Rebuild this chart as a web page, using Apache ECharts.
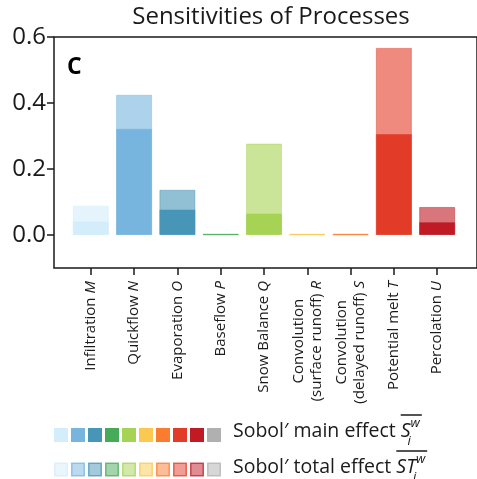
<!DOCTYPE html>
<html><head><meta charset="utf-8">
<script src="https://cdn.jsdelivr.net/npm/echarts@6/dist/echarts.min.js"></script>
<style>html,body{margin:0;padding:0;background:#fff}#c{width:477px;height:479px}</style>
</head><body><div id="c"></div><script>
// ---- data ----
const categories = ['Infiltration', 'Quickflow', 'Evaporation', 'Baseflow', 'Snow Balance',
  'Convolution\n(surface runoff)', 'Convolution\n(delayed runoff)', 'Potential melt', 'Percolation'];
const symbols = ['M', 'N', 'O', 'P', 'Q', 'R', 'S', 'T', 'U'];
const mainEffect  = [0.041, 0.322, 0.077, 0.002, 0.065, 0.002, 0.002, 0.306, 0.039];
const totalEffect = [0.089, 0.425, 0.137, 0.004, 0.277, 0.004, 0.004, 0.567, 0.085];
const yTicks = [0, 0.2, 0.4, 0.6];
const colors = ['#d3edfa', '#77b5df', '#4795b7', '#46ab58', '#a6d353', '#fbc94f', '#f97c2f', '#e23c28', '#c01b25'];
const legendColors = colors.concat(['#b0b0b0']);
const titleText = 'Sensitivities of Processes';
const panelLetter = 'C';
const legendMain = 'Sobol\u2032 main effect';
const legendTotal = 'Sobol\u2032 total effect';

const FF = '"Open Sans", sans-serif';
const INK = '#1a1a1a';
function rgba(hex, a) {
  const n = parseInt(hex.slice(1), 16);
  return 'rgba(' + (n >> 16 & 255) + ',' + (n >> 8 & 255) + ',' + (n & 255) + ',' + a + ')';
}
const idx = categories.map((_, i) => i);

function labelFor(v) {
  const i = Math.round(v);
  const lines = categories[i].split('\n');
  const last = lines.pop();
  const head = lines.map(l => '{n|' + l + '}');
  head.push('{n|' + last + ' }{i|' + symbols[i] + '}');
  return head.join('\n');
}

const cvs = document.createElement('canvas').getContext('2d');
function tw(text, font) { cvs.font = font; return cvs.measureText(text).width; }

const chart = echarts.init(document.getElementById('c'), null, {renderer: 'canvas'});

const graphic = [];
graphic.push({type: 'text', style: {text: panelLetter, x: 67, y: 67, font: 'bold 23px ' + FF, fill: '#000', verticalAlign: 'middle'}});

const sqX0 = 54, sqStep = 17, sqSize = 14;
legendColors.forEach((c, i) => {
  graphic.push({type: 'rect', shape: {x: sqX0 + i * sqStep, y: 428, width: sqSize, height: sqSize},
    style: {fill: c}});
  graphic.push({type: 'rect', shape: {x: sqX0 + i * sqStep + 0.75, y: 463.25, width: sqSize - 1.5, height: sqSize - 1.5},
    style: {fill: rgba(c, 0.5), stroke: rgba(c, 0.75), lineWidth: 1.5}});
});

function legendRow(label, sym, yMid) {
  const font = '19.5px ' + FF;
  const ifont = 'italic 19.5px ' + FF;
  const sfont = 'italic 13px ' + FF;
  const x0 = 233;
  const w = tw(label, font);
  const sx = x0 + w + 5;
  const sw = tw(sym, ifont);
  graphic.push({type: 'text', style: {text: label, x: x0, y: yMid, font, fill: INK, verticalAlign: 'middle'}});
  graphic.push({type: 'text', style: {text: sym, x: sx, y: yMid, font: ifont, fill: INK, verticalAlign: 'middle'}});
  const ww = tw('w', sfont);
  graphic.push({type: 'text', style: {text: 'w', x: sx + sw, y: yMid - 8, font: sfont, fill: INK, verticalAlign: 'middle'}});
  graphic.push({type: 'text', style: {text: 'i', x: sx + sw - 3, y: yMid + 10, font: sfont, fill: INK, verticalAlign: 'middle'}});
  graphic.push({type: 'line', shape: {x1: sx, y1: yMid - 16, x2: sx + sw + ww + 2, y2: yMid - 16},
    style: {stroke: INK, lineWidth: 1.5}});
}
legendRow(legendMain, 'S', 431);
legendRow(legendTotal, 'ST', 467);

const option = {
  animation: false,
  backgroundColor: '#fff',
  title: {text: titleText, left: 266, top: 0, textAlign: 'center',
    textStyle: {fontFamily: FF, fontSize: 24, fontWeight: 'normal', color: INK}},
  grid: {left: 54, top: 37, width: 430, height: 231, show: true, borderColor: INK, borderWidth: 1.5, backgroundColor: 'transparent'},
  xAxis: {
    type: 'value', min: -0.85, max: 8.92,
    splitLine: {show: false}, axisLine: {show: false, onZero: false},
    axisTick: {show: true, customValues: idx, length: 7, lineStyle: {color: INK, width: 1.5}},
    axisLabel: {customValues: idx, rotate: 90, margin: 13, formatter: labelFor, color: INK,
      fontFamily: FF, fontSize: 15,
      rich: {
        n: {fontFamily: FF, fontSize: 15, color: INK, align: 'center', lineHeight: 18},
        i: {fontFamily: FF, fontSize: 15, color: INK, fontStyle: 'italic', align: 'center', lineHeight: 18}
      }}
  },
  yAxis: {
    type: 'value', min: -0.1, max: 0.6,
    splitLine: {show: false}, axisLine: {show: false, onZero: false},
    axisTick: {show: true, customValues: yTicks, length: 7, lineStyle: {color: INK, width: 1.5}},
    axisLabel: {customValues: yTicks, formatter: v => v.toFixed(1), fontFamily: FF, fontSize: 24, color: INK, margin: 8}
  },
  graphic,
  series: [
    {type: 'bar', name: 'total', barWidth: 36, barGap: '-100%',
      data: totalEffect.map((v, i) => ({value: [i, v], itemStyle: {color: rgba(colors[i], 0.6), borderColor: rgba(colors[i], 0.45), borderWidth: 1}}))},
    {type: 'bar', name: 'main', barWidth: 36, barGap: '-100%',
      data: mainEffect.map((v, i) => ({value: [i, v], itemStyle: {color: colors[i], borderColor: rgba(colors[i], 0.55), borderWidth: 1}}))}
  ]
};
chart.setOption(option);
</script></body></html>
